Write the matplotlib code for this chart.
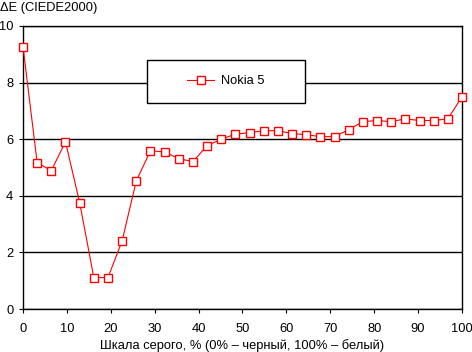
import numpy as np
import matplotlib.pyplot as plt
from matplotlib.patches import Rectangle

# grey scale position, % (32 equally spaced steps)
gray_pct = np.arange(32) * 100.0 / 31
delta_e = [9.27, 5.17, 4.89, 5.91, 3.76, 1.11, 1.11, 2.41, 4.53, 5.59,
           5.55, 5.31, 5.21, 5.77, 6.00, 6.18, 6.23, 6.30, 6.30, 6.20,
           6.16, 6.09, 6.09, 6.34, 6.62, 6.66, 6.62, 6.72, 6.66, 6.66,
           6.72, 7.50]
series_name = 'Nokia 5'
x_ticks = [0, 10, 20, 30, 40, 50, 60, 70, 80, 90, 100]
y_ticks = [0, 2, 4, 6, 8, 10]

plt.rcParams['font.family'] = ['Liberation Sans', 'DejaVu Sans']
plt.rcParams['font.size'] = 9.3

fig = plt.figure(figsize=(4.72, 3.52), dpi=100)
ax = fig.add_axes([23/472, 43/352, 439/472, 283/352])

ax.plot(gray_pct, delta_e, color='red', lw=0.8, marker='s', ms=6.2,
        mfc='white', mec='red', mew=1.0, label=series_name, zorder=3,
        clip_on=False)

ax.set_xlim(0, 100)
ax.set_ylim(0, 10)
ax.set_xticks(x_ticks)
ax.set_yticks(y_ticks)
ax.yaxis.grid(True, color='black', lw=1.0)
ax.set_axisbelow(True)
for s in ax.spines.values():
    s.set_color('black')
    s.set_linewidth(1.0)
ax.tick_params(direction='out', length=3, width=0.8, colors='black')
ax.tick_params(axis='x', pad=7)
ax.tick_params(axis='y', pad=4)

ax.set_xlabel('Шкала серого, % (0% – черный, 100% – белый)', labelpad=3)
fig.text(0.0, 1 - 8/352, 'ΔE (CIEDE2000)', ha='left', va='center')

# legend box
ax.add_patch(Rectangle((0.282, 0.728), 0.36, 0.152, transform=ax.transAxes,
                       facecolor='white', edgecolor='black', lw=1.0, zorder=2))
ax.legend(loc='center', bbox_to_anchor=(0.462, 0.804), frameon=False,
          handlelength=2.1, handletextpad=0.5)

fig.savefig('out.png', dpi=100)
